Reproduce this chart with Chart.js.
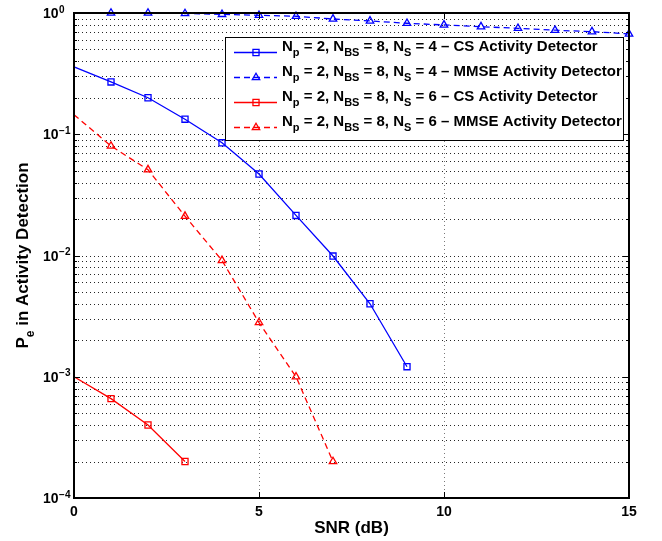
<!DOCTYPE html>
<html>
<head>
<meta charset="utf-8">
<script src="https://cdn.jsdelivr.net/npm/chart.js@4/dist/chart.umd.min.js"></script>
<style>
  html, body { margin: 0; padding: 0; background: #fff; }
  canvas { display: block; }
</style>
</head>
<body>
<canvas id="chart" width="662" height="541"></canvas>
<script>
// P_e vs SNR for the activity detectors.
const snr = [0, 1, 2, 3, 4, 5, 6, 7, 8, 9, 10, 11, 12, 13, 14, 15];

const csNs4 = [0.36, 0.27, 0.2, 0.133, 0.085, 0.047, 0.0214, 0.0099, 0.004, 0.00121];
const mmseNs4 = [1.0, 1.0, 1.0, 0.99, 0.975, 0.957, 0.94, 0.893, 0.86, 0.823, 0.797, 0.771, 0.748, 0.721, 0.702, 0.672];
const csNs6 = [0.001, 0.00066, 0.0004, 0.0002];
const mmseNs6 = [0.145, 0.08, 0.051, 0.0211, 0.0091, 0.0028, 0.001, 0.0002];

const seriesLabels = [
  "N_{p} = 2, N_{BS} = 8, N_{S} = 4 \u2013 CS Activity Detector",
  "N_{p} = 2, N_{BS} = 8, N_{S} = 4 \u2013 MMSE Activity Detector",
  "N_{p} = 2, N_{BS} = 8, N_{S} = 6 \u2013 CS Activity Detector",
  "N_{p} = 2, N_{BS} = 8, N_{S} = 6 \u2013 MMSE Activity Detector"
];

const xTicks = [0, 5, 10, 15];
const yDecades = [0, -1, -2, -3, -4];
const xTitle = "SNR (dB)";
const yTitle = "P_{e} in Activity Detection";

const FONT = '"Liberation Sans", Arial, Helvetica, sans-serif';
const BLUE = "#0000ff";
const RED = "#ff0000";
const DASH = [6, 4];

function points(ys) {
  return ys.map((y, i) => ({ x: snr[i], y }));
}

// no marker on the x = 0 sample (hidden by the axis in the original)
function radii(ys) {
  return ys.map((_, i) => (i === 0 ? 0 : 4.3));
}

function makeSet(label, ys, color, dashed, style) {
  return {
    label,
    data: points(ys),
    borderColor: color,
    borderWidth: 1.3,
    borderDash: dashed ? DASH : [],
    pointStyle: style,
    pointRadius: radii(ys),
    pointHoverRadius: radii(ys),
    pointBorderColor: color,
    pointBackgroundColor: "rgba(0,0,0,0)",
    pointBorderWidth: 1.3,
    fill: false,
    tension: 0,
    clip: false
  };
}

const datasets = [
  makeSet(seriesLabels[0], csNs4, BLUE, false, "rect"),
  makeSet(seriesLabels[1], mmseNs4, BLUE, true, "triangle"),
  makeSet(seriesLabels[2], csNs6, RED, false, "rect"),
  makeSet(seriesLabels[3], mmseNs6, RED, true, "triangle")
];

// draw text with _{...} subscripts, returns width
function richText(ctx, str, x, y, size, measureOnly) {
  const parts = str.split(/(_\{[^}]*\})/).filter(s => s.length);
  let cx = x;
  parts.forEach((p) => {
    const sub = p.startsWith("_{");
    const t = sub ? p.slice(2, -1) : p;
    ctx.font = "bold " + (sub ? Math.round(size * 0.72) : size) + "px " + FONT;
    if (!measureOnly) ctx.fillText(t, cx, sub ? y + Math.round(size / 3) : y);
    cx += ctx.measureText(t).width;
  });
  return cx - x;
}

function seg(ctx, x1, y1, x2, y2) {
  ctx.beginPath();
  ctx.moveTo(x1, y1);
  ctx.lineTo(x2, y2);
  ctx.stroke();
}

const matlabLook = {
  id: "matlabLook",
  beforeDatasetsDraw(chart) {
    const { ctx, chartArea: a, scales } = chart;
    const ys = scales.y, xs = scales.x;
    ctx.save();
    ctx.strokeStyle = "#262626";
    ctx.lineWidth = 1;
    ctx.setLineDash([1, 3]);
    yDecades.forEach((d) => {
      if (d === 0) return;
      for (let m = 1; m <= 9; m++) {
        const py = Math.round(ys.getPixelForValue(m * Math.pow(10, d))) + 0.5;
        if (py >= a.bottom - 1) continue;
        seg(ctx, a.left, py, a.right, py);
      }
    });
    ctx.strokeStyle = "#7a7a7a";
    xTicks.forEach((t) => {
      const px = Math.round(xs.getPixelForValue(t)) + 0.5;
      if (px <= a.left + 1 || px >= a.right - 1) return;
      seg(ctx, px, a.top, px, a.bottom);
    });
    ctx.restore();
  },
  afterDatasetsDraw(chart) {
    const { ctx, chartArea: a, scales } = chart;
    const ys = scales.y, xs = scales.x;
    ctx.save();
    ctx.setLineDash([]);
    ctx.strokeStyle = "#000";

    // tick marks (inward, all four sides)
    ctx.lineWidth = 1;
    yDecades.forEach((d) => {
      for (let m = 1; m <= 9; m++) {
        if (d === 0 && m > 1) break;
        const py = Math.round(ys.getPixelForValue(m * Math.pow(10, d))) + 0.5;
        const len = m === 1 ? 6 : 3;
        seg(ctx, a.left, py, a.left + len, py);
        seg(ctx, a.right - len, py, a.right, py);
      }
    });
    xTicks.forEach((t) => {
      const px = Math.round(xs.getPixelForValue(t)) + 0.5;
      seg(ctx, px, a.bottom, px, a.bottom - 6);
      seg(ctx, px, a.top, px, a.top + 6);
    });

    // axes box
    ctx.lineWidth = 2;
    ctx.strokeRect(a.left, a.top, a.right - a.left, a.bottom - a.top);

    // x tick labels
    ctx.fillStyle = "#000";
    ctx.textAlign = "center";
    ctx.textBaseline = "alphabetic";
    ctx.font = "bold 14px " + FONT;
    xTicks.forEach((t) => {
      ctx.fillText(String(t), xs.getPixelForValue(t), a.bottom + 18);
    });

    // y tick labels 10^d
    ctx.textAlign = "left";
    yDecades.forEach((d) => {
      const py = ys.getPixelForValue(Math.pow(10, d));
      ctx.font = "bold 14px " + FONT;
      ctx.fillText("10", 43, py + 5);
      const w = ctx.measureText("10").width;
      ctx.font = "bold 10px " + FONT;
      ctx.fillText(d < 0 ? "\u2212" + (-d) : String(d), 43 + w + 0.5, py - 0.5);
    });

    // axis titles
    ctx.font = "bold 17px " + FONT;
    ctx.textAlign = "center";
    ctx.fillText(xTitle, (a.left + a.right) / 2, a.bottom + 35);

    ctx.save();
    ctx.translate(28, (a.top + a.bottom) / 2);
    ctx.rotate(-Math.PI / 2);
    ctx.textAlign = "left";
    const tw = richText(ctx, yTitle, 0, 0, 17, true);
    richText(ctx, yTitle, -tw / 2, 0, 17, false);
    ctx.restore();

    // legend
    const box = { l: 225, t: 37, r: 624, b: 141 };
    ctx.fillStyle = "#fff";
    ctx.fillRect(box.l, box.t, box.r - box.l, box.b - box.t);
    ctx.lineWidth = 1;
    ctx.strokeStyle = "#000";
    ctx.strokeRect(box.l + 0.5, box.t + 0.5, box.r - box.l - 1, box.b - box.t - 1);
    chart.data.datasets.forEach((ds, i) => {
      const base = 50.7 + i * 25;
      const ly = Math.round(base + 1) + 0.5;
      ctx.strokeStyle = ds.borderColor;
      ctx.lineWidth = ds.borderWidth;
      ctx.setLineDash(ds.borderDash);
      seg(ctx, 234, ly, 277, ly);
      ctx.setLineDash([]);
      ctx.fillStyle = "rgba(0,0,0,0)";
      ctx.lineWidth = ds.pointBorderWidth;
      Chart.helpers.drawPoint(ctx, { pointStyle: ds.pointStyle, radius: 4.3, rotation: 0, borderWidth: ds.pointBorderWidth }, 256, ly);
      ctx.fillStyle = "#000";
      ctx.textAlign = "left";
      richText(ctx, ds.label, 282, base, 15, false);
    });

    ctx.restore();
  }
};

new Chart(document.getElementById("chart"), {
  type: "line",
  data: { datasets },
  options: {
    responsive: false,
    animation: false,
    events: [],
    layout: { padding: { left: 74, top: 13, right: 33, bottom: 43 } },
    plugins: { legend: { display: false }, tooltip: { enabled: false } },
    scales: {
      x: { type: "linear", min: 0, max: 15, display: false },
      y: { type: "logarithmic", min: 1e-4, max: 1, display: false }
    }
  },
  plugins: [matlabLook]
});
</script>
</body>
</html>
